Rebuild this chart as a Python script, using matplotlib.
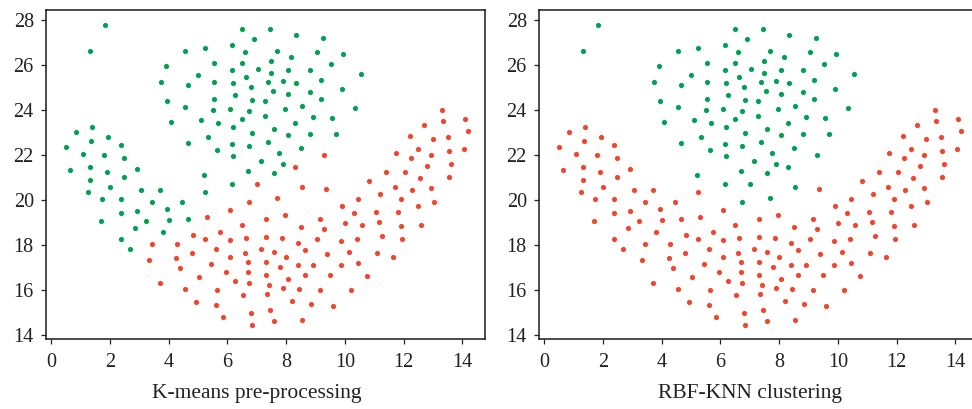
import matplotlib
matplotlib.use("Agg")
import matplotlib.pyplot as plt
import numpy as np

plt.rcParams['font.family'] = ['Liberation Serif', 'DejaVu Serif']

# Points labelled green by both methods (upper cluster)
core_green = [
    (6.51,27.60),(7.45,27.60),(6.91,27.16),(8.35,27.35),(9.25,27.20),(4.55,26.65),(5.25,26.76),
    (6.15,26.90),(6.60,26.60),(7.70,26.65),(9.05,26.60),(9.95,26.50),(8.16,26.35),(3.90,25.96),
    (5.55,26.10),(6.50,26.10),(7.50,26.20),(9.54,26.06),(10.55,25.61),(5.00,25.56),(6.15,25.80),
    (7.05,25.85),(7.50,25.66),(8.06,25.80),(8.81,25.80),(3.75,25.26),(4.65,25.11),(5.55,25.26),
    (6.21,25.21),(6.65,25.47),(6.80,25.05),(7.40,25.26),(7.91,25.32),(8.35,25.21),(9.20,25.36),
    (9.89,24.96),(7.56,24.86),(8.06,24.71),(8.81,24.81),(3.96,24.41),(4.55,24.15),(5.55,24.52),
    (6.25,24.67),(6.85,24.46),(7.29,24.41),(9.20,24.52),(5.50,24.01),(6.10,24.06),(6.75,23.96),
    (7.95,24.06),(8.55,24.20),(10.36,24.12),(4.09,23.47),(5.10,23.57),(5.70,23.41),(6.50,23.61),
    (7.29,23.76),(8.91,23.72),(9.55,23.66),(6.21,23.26),(7.60,23.17),(8.31,23.41),(6.85,23.00),
    (8.06,22.90),(8.81,22.96),(9.70,22.96),(4.65,22.56),(5.35,22.81),(6.15,22.50),(6.75,22.41),
    (7.40,22.60),(8.50,22.31),(5.65,22.22),(6.21,21.97),(7.75,22.12),(7.16,21.76),(7.91,21.61),
    (5.20,21.11),(6.71,21.32),(7.60,21.21),(6.15,20.71),(1.34,26.65),(1.85,27.78),
]

# Green in K-means, red in RBF-KNN (left arm)
arm = [
    (0.85,23.05),(1.40,23.26),(0.50,22.37),(1.35,22.65),(1.95,22.81),(2.39,22.46),(1.10,22.06),
    (1.80,22.01),(2.50,21.87),(0.65,21.36),(1.34,21.47),(1.90,21.26),(2.94,21.40),(1.34,20.90),
    (2.50,21.02),(1.25,20.36),(2.00,20.60),(3.06,20.46),(3.70,20.46),(5.25,20.36),(1.75,20.06),
    (2.39,20.06),(3.45,19.91),(4.45,19.91),(3.95,19.61),(2.39,19.42),(2.94,19.51),(3.24,19.07),
    (4.00,19.11),(4.65,19.17),(1.70,19.07),(2.85,18.77),(3.80,18.58),(2.39,18.27),(2.70,17.82),
]

# Red in K-means, green in RBF-KNN
swap = [(9.30,22.01),(8.31,21.47),(7.00,20.71),(8.55,20.60),(6.75,19.91),(7.70,20.09)]

# Red in both
core_red = [
    (9.35,20.50),(10.81,20.86),(10.46,20.04),
    (13.29,24.00),(14.10,23.60),(13.35,23.51),(12.71,23.35),(14.20,23.07),(12.21,22.86),(13.00,22.71),
    (13.50,22.81),(11.75,22.10),(12.50,22.27),(12.94,22.00),(13.56,22.20),(14.06,22.27),(12.25,21.87),
    (13.60,21.61),(12.81,21.51),(11.40,21.26),(12.05,21.26),(12.55,20.98),(13.55,21.02),
    (11.70,20.60),(12.30,20.46),(12.94,20.56),(6.09,19.57),(11.20,20.27),(11.90,20.06),(12.50,19.76),
    (13.05,19.91),(9.90,19.76),(11.05,19.47),(11.80,19.47),(10.30,19.42),(7.95,19.36),(7.31,19.16),
    (9.15,19.16),(11.15,19.02),(10.00,18.98),(10.60,18.92),(11.90,18.87),(12.59,18.92),(6.50,18.92),
    (8.50,18.81),(9.30,18.71),(11.26,18.41),(11.96,18.27),(6.09,18.22),(6.65,18.31),(7.31,18.37),
    (7.85,18.31),(9.05,18.27),(9.86,18.18),(10.40,18.27),(8.41,18.12),(7.16,17.82),(7.60,17.72),
    (6.59,17.67),(8.66,17.78),(9.40,17.61),(10.15,17.72),(11.11,17.67),(11.65,17.47),(6.09,17.47),
    (6.71,17.27),(7.31,17.27),(8.00,17.47),(7.80,17.02),(8.41,17.11),(8.91,17.11),(9.86,17.11),
    (10.45,17.21),(6.71,16.81),(7.31,16.67),(8.06,16.52),(8.66,16.67),(9.50,16.67),(10.74,16.62),
    (6.25,16.41),(6.75,16.31),(7.41,16.22),(7.91,16.12),(8.45,16.07),(9.15,16.01),(10.20,16.01),
    (6.55,15.78),(7.35,15.82),(8.20,15.52),(8.85,15.38),(9.60,15.32),(7.45,15.12),(6.81,14.98),
    (6.85,14.47),(7.60,14.62),(8.55,14.67),
    (5.31,19.27),(4.84,18.47),(5.74,18.58),(5.25,18.27),(3.45,18.07),(4.30,18.07),(4.80,17.67),
    (5.61,17.82),(3.35,17.33),(4.25,17.42),(4.39,16.98),(5.45,17.17),(5.96,16.81),(5.05,16.58),
    (3.70,16.32),(4.55,16.07),(5.65,16.03),(4.95,15.48),(5.61,15.33),(5.85,14.83),
]

xticks = [0, 2, 4, 6, 8, 10, 12, 14]
yticks = [14, 16, 18, 20, 22, 24, 26, 28]
titles = ["K-means pre-processing", "RBF-KNN clustering"]

GREEN = '#00a14f'
RED = '#f0462d'

panels = [
    (core_green + arm, swap + core_red),
    (core_green + swap, arm + core_red),
]

W, H = 972, 409
fig = plt.figure(figsize=(W/100, H/100), dpi=100)
lefts = [45.7, 538.7]
axw = 439.3
bottom_px, top_px = 339.3, 10.3
for i, (greens, reds) in enumerate(panels):
    ax = fig.add_axes([lefts[i]/W, 1 - bottom_px/H, axw/W, (bottom_px - top_px)/H])
    g = np.array(greens); r = np.array(reds)
    ax.scatter(r[:, 0], r[:, 1], s=14, color=RED, linewidths=0, zorder=3)
    ax.scatter(g[:, 0], g[:, 1], s=14, color=GREEN, linewidths=0, zorder=3)
    ax.set_xlim(-0.18, 14.77)
    ax.set_ylim(13.82, 28.44)
    ax.set_xticks(xticks)
    ax.set_yticks(yticks)
    ax.tick_params(direction='out', length=3.6, width=0.9, labelsize=14.5, pad=5, colors='#222222')
    ax.tick_params(axis='x', pad=6)
    for sp in ax.spines.values():
        sp.set_linewidth(1.1)
        sp.set_color('#1a1a1a')
    ax.set_xlabel(titles[i], fontsize=15.5, color='#222222')
    ax.xaxis.set_label_coords((7 + 0.18) / (14.77 + 0.18), -0.135)

fig.savefig("out.png", dpi=100)
